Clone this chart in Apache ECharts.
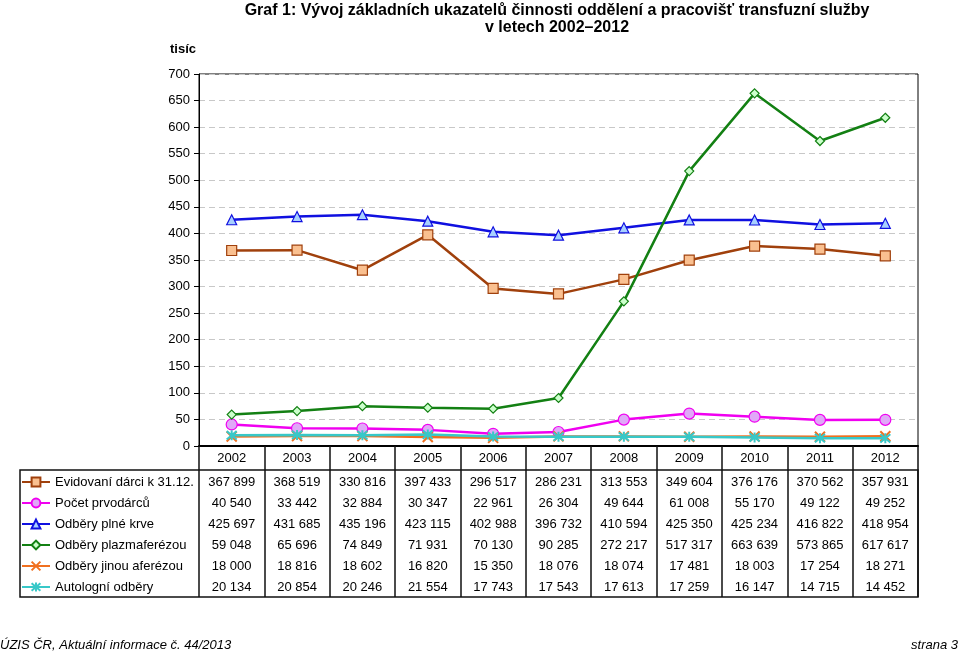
<!DOCTYPE html>
<html>
<head>
<meta charset="utf-8">
<script src="https://cdn.jsdelivr.net/npm/echarts@6/dist/echarts.min.js"></script>
<style>
html,body{margin:0;padding:0;background:#fff;}
#chart{width:960px;height:654px;}
</style>
</head>
<body>
<div id="chart"></div>
<script>
const categories = ['2002','2003','2004','2005','2006','2007','2008','2009','2010','2011','2012'];
const seriesNames = ['Evidovaní dárci k 31.12.','Počet prvodárců','Odběry plné krve','Odběry plazmaferézou','Odběry jinou aferézou','Autologní odběry'];
const evidovani = [367899, 368519, 330816, 397433, 296517, 286231, 313553, 349604, 376176, 370562, 357931];
const prvodarci = [40540, 33442, 32884, 30347, 22961, 26304, 49644, 61008, 55170, 49122, 49252];
const plneKrve  = [425697, 431685, 435196, 423115, 402988, 396732, 410594, 425350, 425234, 416822, 418954];
const plazma    = [59048, 65696, 74849, 71931, 70130, 90285, 272217, 517317, 663639, 573865, 617617];
const jinou     = [18000, 18816, 18602, 16820, 15350, 18076, 18074, 17481, 18003, 17254, 18271];
const autolog   = [20134, 20854, 20246, 21554, 17743, 17543, 17613, 17259, 16147, 14715, 14452];
const yMin = 0, yMax = 700, yStep = 50;
const unitLabel = 'tisíc';
const titleLine1 = 'Graf 1: Vývoj základních ukazatelů činnosti oddělení a pracovišť transfuzní služby';
const titleLine2 = 'v letech 2002–2012';
const footerLeft = 'ÚZIS ČR, Aktuální informace č. 44/2013';
const footerRight = 'strana 3';

const allValues = [evidovani, prvodarci, plneKrve, plazma, jinou, autolog];
const lineColors = ['#A0400C', '#F000F0', '#1010E0', '#138013', '#F07020', '#38C8C8'];
const fillColors = ['#FAC090', '#E0A8F8', '#A8D0FF', '#CCFFCC', '#F07020', '#38C8C8'];
const symbols = ['rect', 'circle', 'triangle', 'diamond',
  'path://M0,0L10,10M0,10L10,0',
  'path://M0,0L10,10M0,10L10,0M5,-1L5,11'];
const symbolSizes = [10, 11, 10, 9, 10, 10];

const FONT = 'Liberation Sans, Arial, sans-serif';
const NARROW = '"Liberation Sans Narrow", "Arial Narrow", "Liberation Sans", sans-serif';

function fmt(n) { return String(n).replace(/\B(?=(\d{3})+(?!\d))/g, ' '); }

const gridLeft = 199, gridTop = 74, gridW = 719, gridH = 372;
const rowH = 21, headerH = 24;

const series = allValues.map((vals, i) => {
  const isStroke = i >= 4;
  return {
    name: seriesNames[i],
    type: 'line',
    data: vals.map(v => v / 1000),
    symbol: symbols[i],
    symbolSize: symbolSizes[i],
    showAllSymbol: true,
    lineStyle: { color: lineColors[i], width: 2.5 },
    itemStyle: {
      color: fillColors[i],
      borderColor: lineColors[i],
      borderWidth: isStroke ? 2 : 1.2
    },
    emphasis: { disabled: true },
    z: 3 + i
  };
});

const xAxes = [{
  type: 'category',
  data: categories,
  boundaryGap: true,
  position: 'bottom',
  axisLine: { show: true, lineStyle: { color: '#000', width: 2 } },
  axisTick: { show: true, interval: 0, length: headerH + rowH * 6 + 1, lineStyle: { color: '#111', width: 1.5 } },
  axisLabel: { interval: 0, margin: 6, fontSize: 13, color: '#000', fontFamily: FONT },
  splitLine: { show: false }
}];
allValues.forEach((vals, i) => {
  xAxes.push({
    type: 'category',
    data: categories,
    boundaryGap: true,
    position: 'bottom',
    offset: headerH + 6 + rowH * i,
    axisLine: { show: false },
    axisTick: { show: false },
    axisLabel: {
      interval: 0, margin: 0, fontSize: 13, color: '#000', fontFamily: FONT,
      formatter: (v, idx) => fmt(vals[idx])
    },
    splitLine: { show: false }
  });
});

const chart = echarts.init(document.getElementById('chart'), null, { renderer: 'canvas' });
chart.setOption({
  animation: false,
  backgroundColor: '#fff',
  grid: { left: gridLeft, top: gridTop, width: gridW, height: gridH, show: true, borderColor: '#000', borderWidth: 1, backgroundColor: 'transparent' },
  xAxis: xAxes,
  yAxis: {
    type: 'value',
    min: yMin, max: yMax, interval: yStep,
    axisLine: { show: true, lineStyle: { color: '#000', width: 1 } },
    axisTick: { show: true, length: 5, lineStyle: { color: '#000' } },
    axisLabel: { fontSize: 13, color: '#000', margin: 9, fontFamily: FONT },
    splitLine: { show: true, lineStyle: { color: '#C8C8C8', type: [6, 4], width: 1 } }
  },
  legend: {
    orient: 'vertical',
    left: 21, top: gridTop + gridH + headerH + 5,
    padding: 0,
    itemWidth: 28, itemHeight: 11, itemGap: 7,
    selectedMode: false,
    textStyle: { fontSize: 13, color: '#000', fontFamily: FONT, lineHeight: 14 },
    data: seriesNames
  },
  series: series,
  graphic: [
    { type: 'text', x: 557, y: 3, style: { text: titleLine1, font: 'bold 16px ' + NARROW, fill: '#000', textAlign: 'center' } },
    { type: 'text', x: 557, y: 20, style: { text: titleLine2, font: 'bold 16px ' + NARROW, fill: '#000', textAlign: 'center' } },
    { type: 'text', x: 170, y: 43, style: { text: unitLabel, font: 'bold 13px ' + NARROW, fill: '#000' } },
    { type: 'rect', shape: { x: 20, y: gridTop + gridH + headerH, width: gridLeft + gridW - 20, height: rowH * 6 + 1 },
      style: { fill: 'none', stroke: '#111', lineWidth: 1.5 } },
    { type: 'text', x: 0, y: 639, style: { text: footerLeft, font: 'italic 13px ' + NARROW, fill: '#000' } },
    { type: 'text', x: 958, y: 639, style: { text: footerRight, font: 'italic 13px ' + NARROW, fill: '#000', textAlign: 'right' } }
  ]
});
</script>
</body>
</html>
